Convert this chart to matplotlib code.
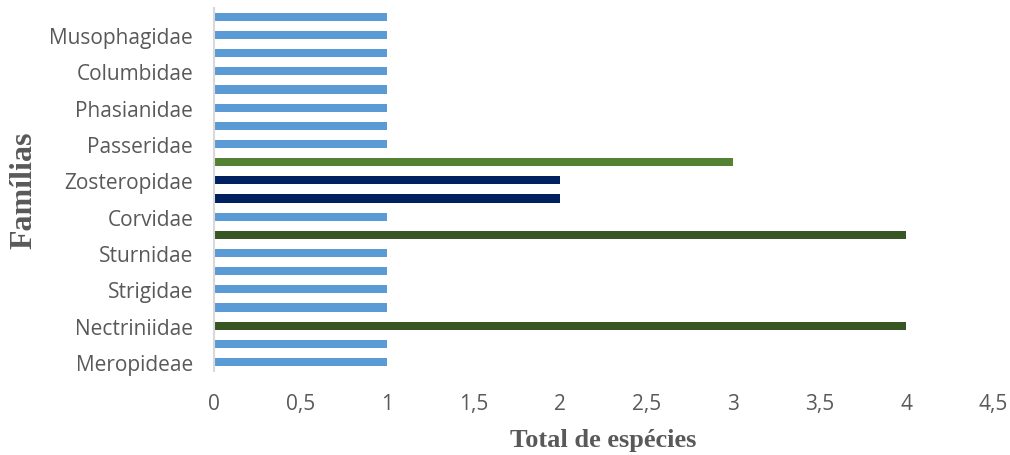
import matplotlib.pyplot as plt

# Families from bottom to top; Excel only printed every other name
familias = ["Meropideae", "", "Nectriniidae", "", "Strigidae", "", "Sturnidae", "",
            "Corvidae", "", "Zosteropidae", "", "Passeridae", "", "Phasianidae", "",
            "Columbidae", "", "Musophagidae", ""]
total = [1, 1, 4, 1, 1, 1, 1, 4, 1, 2, 2, 3, 1, 1, 1, 1, 1, 1, 1, 1]

# bar colour by species count
cores = {1: "#5B9BD5", 2: "#002060", 3: "#548235", 4: "#375623"}
bar_colors = [cores[v] for v in total]

cinza = "#595959"

fig = plt.figure(figsize=(10.1, 4.56), dpi=100)
ax = fig.add_axes([0.2119, 0.184, 0.771, 0.797])

pos = list(range(len(total)))
ax.barh(pos, total, height=0.45, color=bar_colors)

ax.set_xlim(0, 4.5)
ax.set_ylim(-0.5, len(total) - 0.5)
ax.set_xticks([0, 0.5, 1, 1.5, 2, 2.5, 3, 3.5, 4, 4.5])
ax.set_xticklabels(["0", "0,5", "1", "1,5", "2", "2,5", "3", "3,5", "4", "4,5"])
ax.set_yticks(pos)
ax.set_yticklabels(familias)
ax.tick_params(length=0, labelsize=15, colors=cinza)
for lbl in ax.get_xticklabels() + ax.get_yticklabels():
    lbl.set_fontfamily("Open Sans")
ax.tick_params(axis="y", pad=15)
ax.tick_params(axis="x", pad=16)

for s in ["top", "right", "bottom"]:
    ax.spines[s].set_visible(False)
ax.spines["left"].set_color("#D9D9D9")
ax.spines["left"].set_linewidth(1.5)

ax.set_xlabel("Total de espécies", fontfamily="Liberation Serif", fontweight="bold",
              fontsize=19, color=cinza, labelpad=10)
ax.set_ylabel("Famílias", fontfamily="Liberation Serif", fontweight="bold",
              fontsize=23, color=cinza, labelpad=8)

fig.savefig("out.png", dpi=100)
